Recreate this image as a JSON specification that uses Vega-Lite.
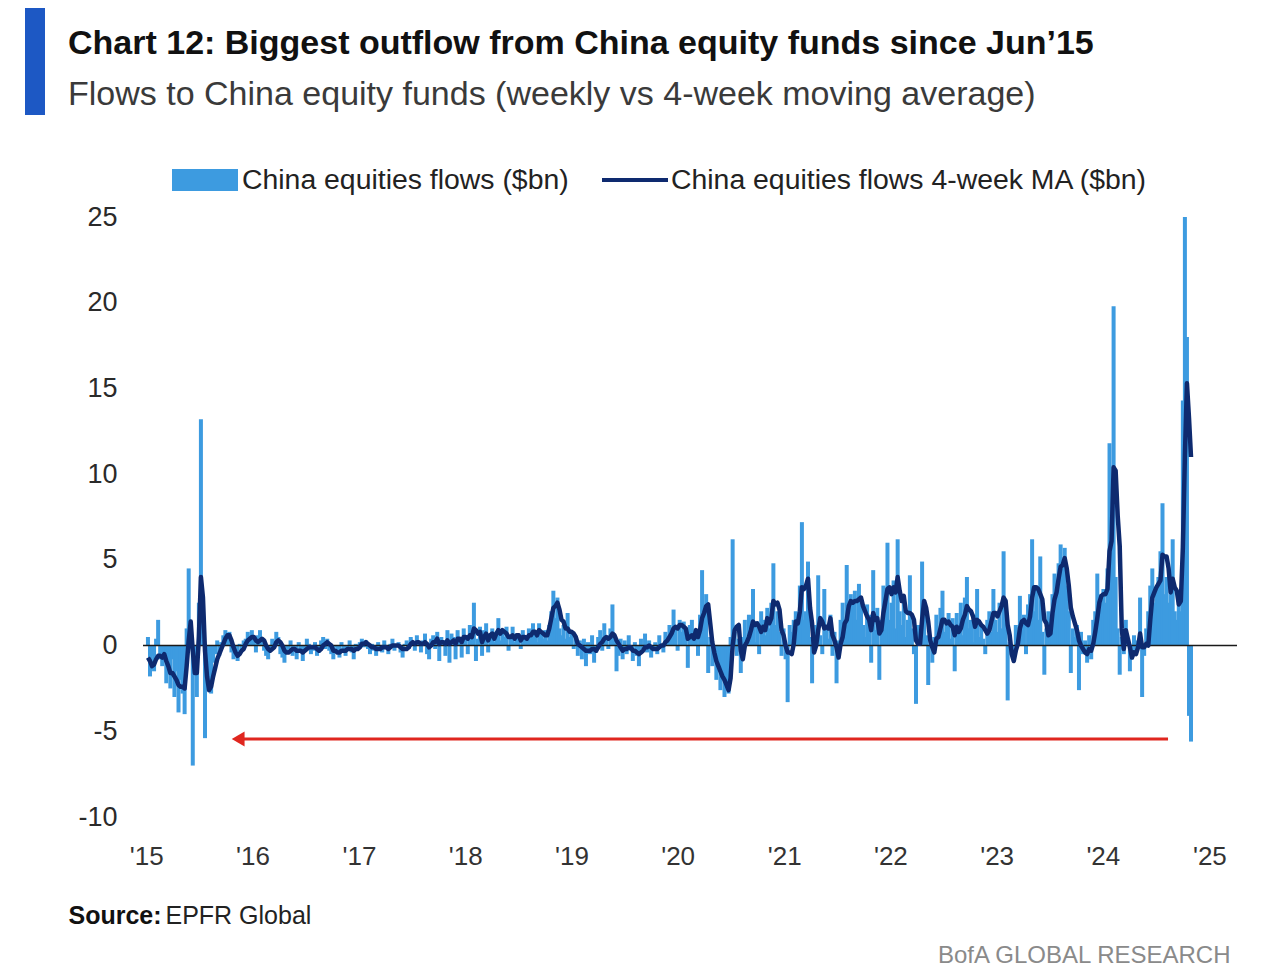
{
"$schema": "https://vega.github.io/schema/vega-lite/v6.json",
"width": 1094, "height": 600,
"autosize": {"type": "none"},
"padding": {"left": 143, "top": 217, "right": 47, "bottom": 162},
"background": "white",
"config": {"view": {"stroke": null}, "font": "Liberation Sans", "legend": {"padding": 0, "labelFont": "Liberation Sans", "labelFontSize": 28.4, "labelColor": "#222", "labelLimit": 800}},
"title": {"text": "Chart 12: Biggest outflow from China equity funds since Jun’15", "subtitle": "Flows to China equity funds (weekly vs 4-week moving average)", "anchor": "start", "frame": "group", "dx": -75, "offset": -104, "font": "Liberation Sans", "fontSize": 34, "fontWeight": "bold", "color": "#111", "subtitleFont": "Liberation Sans", "subtitleFontSize": 34, "subtitleColor": "#3a3a3a", "subtitlePadding": 17},
"data": {"format": {"parse": {"d": "date:'%Y-%j'"}}, "values": [
{"d":"2015-007","f":0.5,"m":-0.7},{"d":"2015-014","f":-1.8,"m":-0.9},{"d":"2015-021","f":-0.6,"m":-1.2},{"d":"2015-028","f":-1.5,"m":-1.1},{"d":"2015-035","f":0.4,"m":-0.8},{"d":"2015-042","f":1.5,"m":-0.6},{"d":"2015-049","f":-0.8,"m":-0.6},{"d":"2015-056","f":-1.2,"m":-0.7},{"d":"2015-063","f":-0.5,"m":-0.5},{"d":"2015-070","f":-2.2,"m":-0.9},{"d":"2015-077","f":-1.0,"m":-1.2},{"d":"2015-084","f":-2.5,"m":-1.6},{"d":"2015-091","f":-0.8,"m":-1.6},{"d":"2015-098","f":-3.0,"m":-1.8},{"d":"2015-105","f":-1.5,"m":-2.0},{"d":"2015-112","f":-3.9,"m":-2.3},{"d":"2015-119","f":-2.0,"m":-2.4},{"d":"2015-126","f":-2.8,"m":-2.4},{"d":"2015-133","f":-4.0,"m":-2.5},{"d":"2015-140","f":1.0,"m":-1.2},{"d":"2015-147","f":4.5,"m":0.3},{"d":"2015-154","f":0.5,"m":1.4},{"d":"2015-161","f":-7.0,"m":-0.3},{"d":"2015-168","f":-1.0,"m":-1.6},{"d":"2015-175","f":-3.0,"m":-1.6},{"d":"2015-182","f":2.5,"m":0.5},{"d":"2015-189","f":13.2,"m":4.0},{"d":"2015-196","f":2.0,"m":2.8},{"d":"2015-203","f":-5.4,"m":-0.3},{"d":"2015-210","f":-1.5,"m":-1.8},{"d":"2015-217","f":-2.0,"m":-2.6},{"d":"2015-224","f":-2.8,"m":-2.4},{"d":"2015-231","f":-1.0,"m":-1.8},{"d":"2015-238","f":-0.5,"m":-1.3},{"d":"2015-245","f":0.3,"m":-0.8},{"d":"2015-252","f":-0.6,"m":-0.5},{"d":"2015-259","f":0.2,"m":-0.2},{"d":"2015-266","f":0.6,"m":0.1},{"d":"2015-273","f":0.9,"m":0.4},{"d":"2015-280","f":0.5,"m":0.6},{"d":"2015-287","f":0.8,"m":0.6},{"d":"2015-294","f":-0.4,"m":0.3},{"d":"2015-301","f":-0.8,"m":-0.1},{"d":"2015-308","f":-0.5,"m":-0.4},{"d":"2015-315","f":-0.9,"m":-0.6},{"d":"2015-322","f":0.1,"m":-0.5},{"d":"2015-329","f":-0.2,"m":-0.3},{"d":"2015-336","f":0.3,"m":-0.2},{"d":"2015-343","f":0.4,"m":0.1},{"d":"2015-350","f":0.8,"m":0.3},{"d":"2015-357","f":0.2,"m":0.4},{"d":"2015-364","f":0.9,"m":0.5},
{"d":"2016-006","f":0.3,"m":0.5},{"d":"2016-013","f":-0.4,"m":0.3},{"d":"2016-020","f":0.6,"m":0.2},{"d":"2016-027","f":0.9,"m":0.3},{"d":"2016-034","f":0.2,"m":0.4},{"d":"2016-041","f":-0.3,"m":0.3},{"d":"2016-048","f":-0.6,"m":0.0},{"d":"2016-055","f":-0.8,"m":-0.2},{"d":"2016-062","f":-0.2,"m":-0.3},{"d":"2016-069","f":0.4,"m":-0.2},{"d":"2016-076","f":0.1,"m":-0.1},{"d":"2016-083","f":0.8,"m":0.2},{"d":"2016-090","f":0.5,"m":0.3},{"d":"2016-097","f":-0.5,"m":0.2},{"d":"2016-104","f":-0.7,"m":0.0},{"d":"2016-111","f":-1.0,"m":-0.3},{"d":"2016-118","f":-0.4,"m":-0.4},{"d":"2016-125","f":-0.2,"m":-0.4},{"d":"2016-132","f":0.3,"m":-0.3},{"d":"2016-139","f":-0.6,"m":-0.2},{"d":"2016-146","f":-0.3,"m":-0.2},{"d":"2016-153","f":-0.8,"m":-0.3},{"d":"2016-160","f":0.2,"m":-0.3},{"d":"2016-167","f":-0.4,"m":-0.3},{"d":"2016-174","f":-0.9,"m":-0.4},{"d":"2016-181","f":-0.2,"m":-0.3},{"d":"2016-188","f":0.4,"m":-0.2},{"d":"2016-195","f":0.1,"m":-0.1},{"d":"2016-202","f":-0.5,"m":-0.1},{"d":"2016-209","f":-0.3,"m":-0.1},{"d":"2016-216","f":0.2,"m":-0.1},{"d":"2016-223","f":-0.6,"m":-0.2},{"d":"2016-230","f":-0.4,"m":-0.3},{"d":"2016-237","f":0.3,"m":-0.2},{"d":"2016-244","f":0.5,"m":0.0},{"d":"2016-251","f":-0.2,"m":0.1},{"d":"2016-258","f":0.4,"m":0.2},{"d":"2016-265","f":-0.3,"m":0.1},{"d":"2016-272","f":-0.5,"m":0.0},{"d":"2016-279","f":-0.8,"m":-0.3},{"d":"2016-286","f":-0.1,"m":-0.3},{"d":"2016-293","f":-0.4,"m":-0.4},{"d":"2016-300","f":-0.7,"m":-0.4},{"d":"2016-307","f":0.2,"m":-0.3},{"d":"2016-314","f":-0.3,"m":-0.3},{"d":"2016-321","f":-0.6,"m":-0.3},{"d":"2016-328","f":-0.2,"m":-0.2},{"d":"2016-335","f":0.3,"m":-0.2},{"d":"2016-342","f":-0.4,"m":-0.2},{"d":"2016-349","f":-0.8,"m":-0.3},{"d":"2016-356","f":0.1,"m":-0.2},{"d":"2016-363","f":-0.2,"m":-0.2},
{"d":"2017-004","f":0.2,"m":-0.1},{"d":"2017-011","f":0.4,"m":0.1},{"d":"2017-018","f":-0.1,"m":0.1},{"d":"2017-025","f":0.3,"m":0.2},{"d":"2017-032","f":-0.2,"m":0.1},{"d":"2017-039","f":-0.5,"m":0.0},{"d":"2017-046","f":0.1,"m":-0.1},{"d":"2017-053","f":-0.3,"m":-0.1},{"d":"2017-060","f":-0.6,"m":-0.2},{"d":"2017-067","f":0.2,"m":-0.2},{"d":"2017-074","f":-0.1,"m":-0.2},{"d":"2017-081","f":-0.4,"m":-0.1},{"d":"2017-088","f":0.3,"m":-0.1},{"d":"2017-095","f":-0.2,"m":-0.1},{"d":"2017-102","f":-0.5,"m":-0.2},{"d":"2017-109","f":0.1,"m":-0.1},{"d":"2017-116","f":0.4,"m":0.0},{"d":"2017-123","f":-0.3,"m":0.0},{"d":"2017-130","f":-0.1,"m":0.0},{"d":"2017-137","f":0.2,"m":0.0},{"d":"2017-144","f":-0.4,"m":-0.1},{"d":"2017-151","f":-0.7,"m":-0.2},{"d":"2017-158","f":0.1,"m":-0.2},{"d":"2017-165","f":0.3,"m":-0.2},{"d":"2017-172","f":-0.2,"m":-0.1},{"d":"2017-179","f":0.5,"m":0.1},{"d":"2017-186","f":0.2,"m":0.2},{"d":"2017-193","f":-0.3,"m":0.1},{"d":"2017-200","f":0.6,"m":0.2},{"d":"2017-207","f":0.1,"m":0.2},{"d":"2017-214","f":-0.4,"m":0.1},{"d":"2017-221","f":0.3,"m":0.1},{"d":"2017-228","f":0.7,"m":0.2},{"d":"2017-235","f":-0.5,"m":0.1},{"d":"2017-242","f":-0.8,"m":-0.1},{"d":"2017-249","f":0.4,"m":0.0},{"d":"2017-256","f":0.6,"m":0.2},{"d":"2017-263","f":-0.2,"m":0.2},{"d":"2017-270","f":0.8,"m":0.4},{"d":"2017-277","f":-0.9,"m":0.1},{"d":"2017-284","f":0.5,"m":0.2},{"d":"2017-291","f":0.3,"m":0.2},{"d":"2017-298","f":-0.6,"m":0.1},{"d":"2017-305","f":0.9,"m":0.3},{"d":"2017-312","f":-1.0,"m":0.1},{"d":"2017-319","f":0.7,"m":0.2},{"d":"2017-326","f":0.5,"m":0.3},{"d":"2017-333","f":-0.8,"m":0.1},{"d":"2017-340","f":0.9,"m":0.4},{"d":"2017-347","f":0.2,"m":0.4},{"d":"2017-354","f":-0.7,"m":0.2},{"d":"2017-361","f":1.0,"m":0.5},
{"d":"2018-003","f":0.6,"m":0.5},{"d":"2018-010","f":-0.5,"m":0.4},{"d":"2018-017","f":1.2,"m":0.6},{"d":"2018-024","f":0.8,"m":0.5},{"d":"2018-031","f":2.5,"m":1.0},{"d":"2018-038","f":-0.9,"m":0.9},{"d":"2018-045","f":0.4,"m":0.7},{"d":"2018-052","f":1.1,"m":0.8},{"d":"2018-059","f":-0.6,"m":0.2},{"d":"2018-066","f":0.9,"m":0.5},{"d":"2018-073","f":1.3,"m":0.7},{"d":"2018-080","f":-0.4,"m":0.3},{"d":"2018-087","f":0.7,"m":0.6},{"d":"2018-094","f":1.0,"m":0.7},{"d":"2018-101","f":0.2,"m":0.4},{"d":"2018-108","f":0.8,"m":0.7},{"d":"2018-115","f":1.6,"m":0.9},{"d":"2018-122","f":0.3,"m":0.7},{"d":"2018-129","f":0.9,"m":0.9},{"d":"2018-136","f":0.5,"m":0.8},{"d":"2018-143","f":1.1,"m":0.7},{"d":"2018-150","f":-0.3,"m":0.5},{"d":"2018-157","f":0.6,"m":0.5},{"d":"2018-164","f":1.1,"m":0.6},{"d":"2018-171","f":0.2,"m":0.4},{"d":"2018-178","f":0.7,"m":0.6},{"d":"2018-185","f":0.4,"m":0.6},{"d":"2018-192","f":-0.2,"m":0.3},{"d":"2018-199","f":0.9,"m":0.5},{"d":"2018-206","f":0.6,"m":0.5},{"d":"2018-213","f":0.3,"m":0.4},{"d":"2018-220","f":1.0,"m":0.6},{"d":"2018-227","f":0.5,"m":0.6},{"d":"2018-234","f":1.3,"m":0.8},{"d":"2018-241","f":0.7,"m":0.8},{"d":"2018-248","f":0.2,"m":0.6},{"d":"2018-255","f":1.3,"m":0.9},{"d":"2018-262","f":0.8,"m":0.8},{"d":"2018-269","f":0.4,"m":0.7},{"d":"2018-276","f":0.9,"m":0.6},{"d":"2018-283","f":0.3,"m":0.6},{"d":"2018-290","f":1.2,"m":1.0},{"d":"2018-297","f":2.0,"m":1.6},{"d":"2018-304","f":3.2,"m":2.2},{"d":"2018-311","f":1.6,"m":2.3},{"d":"2018-318","f":2.8,"m":2.5},{"d":"2018-325","f":1.0,"m":2.1},{"d":"2018-332","f":0.6,"m":1.5},{"d":"2018-339","f":1.2,"m":1.4},{"d":"2018-346","f":0.4,"m":1.0},{"d":"2018-353","f":1.9,"m":1.0},{"d":"2018-360","f":0.5,"m":0.8},
{"d":"2019-002","f":0.8,"m":0.8},{"d":"2019-009","f":-0.2,"m":0.7},{"d":"2019-016","f":0.5,"m":0.5},{"d":"2019-023","f":-0.6,"m":0.1},{"d":"2019-030","f":0.3,"m":0.0},{"d":"2019-037","f":-0.8,"m":-0.1},{"d":"2019-044","f":0.4,"m":-0.2},{"d":"2019-051","f":-1.2,"m":-0.3},{"d":"2019-058","f":0.2,"m":-0.3},{"d":"2019-065","f":-0.5,"m":-0.3},{"d":"2019-072","f":0.6,"m":-0.2},{"d":"2019-079","f":-1.0,"m":-0.2},{"d":"2019-086","f":-0.4,"m":-0.3},{"d":"2019-093","f":0.5,"m":-0.1},{"d":"2019-100","f":0.9,"m":0.1},{"d":"2019-107","f":-0.3,"m":0.2},{"d":"2019-114","f":1.3,"m":0.4},{"d":"2019-121","f":0.4,"m":0.5},{"d":"2019-128","f":-0.2,"m":0.4},{"d":"2019-135","f":1.0,"m":0.5},{"d":"2019-142","f":2.4,"m":0.7},{"d":"2019-149","f":0.3,"m":0.6},{"d":"2019-156","f":-1.5,"m":0.3},{"d":"2019-163","f":-0.6,"m":0.1},{"d":"2019-170","f":0.4,"m":-0.1},{"d":"2019-177","f":-0.8,"m":-0.3},{"d":"2019-184","f":0.3,"m":-0.2},{"d":"2019-191","f":-0.5,"m":-0.2},{"d":"2019-198","f":0.6,"m":-0.1},{"d":"2019-205","f":-0.3,"m":-0.1},{"d":"2019-212","f":-0.9,"m":-0.3},{"d":"2019-219","f":0.2,"m":-0.3},{"d":"2019-226","f":-0.6,"m":-0.4},{"d":"2019-233","f":-1.2,"m":-0.5},{"d":"2019-240","f":0.4,"m":-0.4},{"d":"2019-247","f":-0.2,"m":-0.3},{"d":"2019-254","f":0.7,"m":-0.1},{"d":"2019-261","f":-0.4,"m":-0.1},{"d":"2019-268","f":0.3,"m":0.0},{"d":"2019-275","f":-0.7,"m":-0.1},{"d":"2019-282","f":-0.3,"m":-0.2},{"d":"2019-289","f":0.2,"m":-0.2},{"d":"2019-296","f":-0.5,"m":-0.2},{"d":"2019-303","f":0.6,"m":-0.1},{"d":"2019-310","f":0.1,"m":0.0},{"d":"2019-317","f":-0.4,"m":0.0},{"d":"2019-324","f":0.8,"m":0.2},{"d":"2019-331","f":0.3,"m":0.3},{"d":"2019-338","f":1.2,"m":0.5},{"d":"2019-345","f":0.5,"m":0.7},{"d":"2019-352","f":2.1,"m":1.0},{"d":"2019-359","f":1.0,"m":1.1},
{"d":"2020-001","f":-0.3,"m":1.0},{"d":"2020-008","f":1.5,"m":1.2},{"d":"2020-015","f":0.8,"m":1.2},{"d":"2020-022","f":1.4,"m":1.1},{"d":"2020-029","f":0.5,"m":1.0},{"d":"2020-036","f":-1.3,"m":0.4},{"d":"2020-043","f":1.2,"m":0.5},{"d":"2020-050","f":1.5,"m":0.6},{"d":"2020-057","f":0.3,"m":0.4},{"d":"2020-064","f":0.9,"m":0.9},{"d":"2020-071","f":-0.6,"m":0.5},{"d":"2020-078","f":1.8,"m":0.9},{"d":"2020-085","f":4.4,"m":1.6},{"d":"2020-092","f":2.0,"m":1.9},{"d":"2020-099","f":3.0,"m":2.3},{"d":"2020-106","f":-1.6,"m":2.4},{"d":"2020-113","f":0.5,"m":1.3},{"d":"2020-120","f":-1.2,"m":0.2},{"d":"2020-127","f":-0.8,"m":-0.4},{"d":"2020-134","f":-2.0,"m":-0.9},{"d":"2020-141","f":-1.0,"m":-1.2},{"d":"2020-148","f":-2.6,"m":-1.5},{"d":"2020-155","f":-1.5,"m":-1.8},{"d":"2020-162","f":-3.0,"m":-2.0},{"d":"2020-169","f":-2.2,"m":-2.3},{"d":"2020-176","f":-2.8,"m":-2.6},{"d":"2020-183","f":0.5,"m":-1.9},{"d":"2020-190","f":6.2,"m":0.0},{"d":"2020-197","f":0.8,"m":0.9},{"d":"2020-204","f":-0.6,"m":1.1},{"d":"2020-211","f":0.4,"m":1.2},{"d":"2020-218","f":-1.6,"m":-0.3},{"d":"2020-225","f":0.5,"m":-0.8},{"d":"2020-232","f":1.5,"m":0.0},{"d":"2020-239","f":0.2,"m":0.2},{"d":"2020-246","f":1.8,"m":0.5},{"d":"2020-253","f":0.5,"m":0.9},{"d":"2020-260","f":3.3,"m":1.4},{"d":"2020-267","f":0.2,"m":1.2},{"d":"2020-274","f":1.4,"m":1.3},{"d":"2020-281","f":-0.5,"m":1.1},{"d":"2020-288","f":2.0,"m":0.8},{"d":"2020-295","f":1.5,"m":1.1},{"d":"2020-302","f":0.6,"m":0.9},{"d":"2020-309","f":2.2,"m":1.6},{"d":"2020-316","f":1.0,"m":1.3},{"d":"2020-323","f":2.5,"m":1.6},{"d":"2020-330","f":4.8,"m":2.6},{"d":"2020-337","f":1.2,"m":2.4},{"d":"2020-344","f":2.0,"m":2.5},{"d":"2020-351","f":0.8,"m":2.1},{"d":"2020-358","f":-0.6,"m":0.9},{"d":"2020-365","f":1.0,"m":0.6},
{"d":"2021-006","f":-0.8,"m":0.0},{"d":"2021-013","f":-3.3,"m":-0.4},{"d":"2021-020","f":1.2,"m":-0.4},{"d":"2021-027","f":0.8,"m":-0.5},{"d":"2021-034","f":1.5,"m":0.1},{"d":"2021-041","f":2.0,"m":1.4},{"d":"2021-048","f":1.0,"m":1.3},{"d":"2021-055","f":3.5,"m":2.0},{"d":"2021-062","f":7.2,"m":3.4},{"d":"2021-069","f":1.5,"m":3.3},{"d":"2021-076","f":2.0,"m":3.5},{"d":"2021-083","f":4.9,"m":3.9},{"d":"2021-090","f":0.5,"m":2.2},{"d":"2021-097","f":-2.2,"m":1.3},{"d":"2021-104","f":0.4,"m":-0.4},{"d":"2021-111","f":1.2,"m":0.0},{"d":"2021-118","f":4.1,"m":0.9},{"d":"2021-125","f":0.6,"m":1.6},{"d":"2021-132","f":-0.5,"m":1.4},{"d":"2021-139","f":3.3,"m":1.0},{"d":"2021-146","f":1.0,"m":1.1},{"d":"2021-153","f":0.4,"m":1.0},{"d":"2021-160","f":1.8,"m":1.6},{"d":"2021-167","f":-0.6,"m":0.6},{"d":"2021-174","f":0.8,"m":0.3},{"d":"2021-181","f":-2.2,"m":-0.1},{"d":"2021-188","f":0.3,"m":-0.7},{"d":"2021-195","f":1.5,"m":0.1},{"d":"2021-202","f":2.5,"m":0.5},{"d":"2021-209","f":1.0,"m":1.3},{"d":"2021-216","f":4.7,"m":1.5},{"d":"2021-223","f":1.8,"m":2.3},{"d":"2021-230","f":3.0,"m":2.6},{"d":"2021-237","f":2.5,"m":2.5},{"d":"2021-244","f":3.2,"m":2.6},{"d":"2021-251","f":1.5,"m":2.6},{"d":"2021-258","f":3.6,"m":2.7},{"d":"2021-265","f":2.8,"m":2.8},{"d":"2021-272","f":1.2,"m":2.3},{"d":"2021-279","f":0.5,"m":2.0},{"d":"2021-286","f":2.4,"m":1.7},{"d":"2021-293","f":1.8,"m":1.5},{"d":"2021-300","f":-1.0,"m":0.9},{"d":"2021-307","f":4.4,"m":1.9},{"d":"2021-314","f":0.9,"m":1.5},{"d":"2021-321","f":2.2,"m":1.6},{"d":"2021-328","f":-2.0,"m":0.7},{"d":"2021-335","f":1.5,"m":0.9},{"d":"2021-342","f":3.5,"m":1.9},{"d":"2021-349","f":2.8,"m":2.6},{"d":"2021-356","f":6.0,"m":3.3},{"d":"2021-363","f":1.5,"m":3.4},
{"d":"2022-005","f":2.5,"m":3.0},{"d":"2022-012","f":3.8,"m":3.4},{"d":"2022-019","f":1.0,"m":3.1},{"d":"2022-026","f":6.2,"m":4.0},{"d":"2022-033","f":2.0,"m":3.2},{"d":"2022-040","f":1.2,"m":2.6},{"d":"2022-047","f":2.5,"m":2.9},{"d":"2022-054","f":0.5,"m":2.0},{"d":"2022-061","f":1.5,"m":1.9},{"d":"2022-068","f":4.1,"m":1.9},{"d":"2022-075","f":1.0,"m":1.8},{"d":"2022-082","f":-0.5,"m":1.5},{"d":"2022-089","f":-3.4,"m":0.3},{"d":"2022-096","f":1.2,"m":0.1},{"d":"2022-103","f":0.8,"m":0.1},{"d":"2022-110","f":4.9,"m":1.5},{"d":"2022-117","f":2.5,"m":2.6},{"d":"2022-124","f":0.6,"m":2.2},{"d":"2022-131","f":-2.3,"m":1.4},{"d":"2022-138","f":0.3,"m":0.3},{"d":"2022-145","f":-1.0,"m":-0.1},{"d":"2022-152","f":0.5,"m":-0.4},{"d":"2022-159","f":1.8,"m":0.4},{"d":"2022-166","f":0.6,"m":0.5},{"d":"2022-173","f":2.2,"m":1.0},{"d":"2022-180","f":3.2,"m":1.5},{"d":"2022-187","f":0.8,"m":1.5},{"d":"2022-194","f":1.5,"m":1.3},{"d":"2022-201","f":1.9,"m":1.4},{"d":"2022-208","f":0.4,"m":1.2},{"d":"2022-215","f":1.6,"m":1.1},{"d":"2022-222","f":-1.5,"m":0.6},{"d":"2022-229","f":1.9,"m":1.1},{"d":"2022-236","f":1.2,"m":0.8},{"d":"2022-243","f":2.5,"m":1.0},{"d":"2022-250","f":0.6,"m":1.5},{"d":"2022-257","f":2.8,"m":1.8},{"d":"2022-264","f":4.0,"m":2.3},{"d":"2022-271","f":1.0,"m":2.1},{"d":"2022-278","f":1.5,"m":2.0},{"d":"2022-285","f":0.2,"m":1.7},{"d":"2022-292","f":1.8,"m":1.1},{"d":"2022-299","f":3.3,"m":1.5},{"d":"2022-306","f":0.5,"m":1.4},{"d":"2022-313","f":1.2,"m":1.2},{"d":"2022-320","f":0.4,"m":1.1},{"d":"2022-327","f":-0.5,"m":0.9},{"d":"2022-334","f":1.5,"m":0.7},{"d":"2022-341","f":2.0,"m":0.9},{"d":"2022-348","f":0.8,"m":1.4},{"d":"2022-355","f":3.3,"m":1.9},{"d":"2022-362","f":1.5,"m":1.9},
{"d":"2023-004","f":0.8,"m":1.7},{"d":"2023-011","f":2.5,"m":2.0},{"d":"2023-018","f":1.0,"m":2.3},{"d":"2023-025","f":5.5,"m":2.8},{"d":"2023-032","f":1.5,"m":2.6},{"d":"2023-039","f":-3.2,"m":1.2},{"d":"2023-046","f":0.2,"m":0.6},{"d":"2023-053","f":-0.5,"m":-0.5},{"d":"2023-060","f":-0.8,"m":-0.9},{"d":"2023-067","f":1.2,"m":-0.3},{"d":"2023-074","f":0.5,"m":0.1},{"d":"2023-081","f":2.9,"m":1.0},{"d":"2023-088","f":1.0,"m":1.4},{"d":"2023-095","f":1.8,"m":1.5},{"d":"2023-102","f":-0.5,"m":1.3},{"d":"2023-109","f":2.4,"m":1.2},{"d":"2023-116","f":3.0,"m":1.7},{"d":"2023-123","f":6.2,"m":2.8},{"d":"2023-130","f":2.0,"m":3.4},{"d":"2023-137","f":3.5,"m":3.4},{"d":"2023-144","f":1.5,"m":3.3},{"d":"2023-151","f":5.2,"m":3.0},{"d":"2023-158","f":0.8,"m":2.7},{"d":"2023-165","f":-1.7,"m":1.5},{"d":"2023-172","f":1.0,"m":1.3},{"d":"2023-179","f":2.0,"m":0.6},{"d":"2023-186","f":1.5,"m":0.7},{"d":"2023-193","f":3.0,"m":1.9},{"d":"2023-200","f":4.2,"m":2.7},{"d":"2023-207","f":3.5,"m":3.1},{"d":"2023-214","f":4.8,"m":3.9},{"d":"2023-221","f":5.9,"m":4.6},{"d":"2023-228","f":4.5,"m":4.7},{"d":"2023-235","f":5.7,"m":5.1},{"d":"2023-242","f":3.5,"m":4.5},{"d":"2023-249","f":2.0,"m":3.5},{"d":"2023-256","f":-1.6,"m":2.2},{"d":"2023-263","f":1.0,"m":1.7},{"d":"2023-270","f":0.5,"m":1.3},{"d":"2023-277","f":1.2,"m":0.9},{"d":"2023-284","f":-2.6,"m":0.3},{"d":"2023-291","f":0.8,"m":0.0},{"d":"2023-298","f":-0.5,"m":-0.2},{"d":"2023-305","f":0.3,"m":-0.4},{"d":"2023-312","f":-1.0,"m":-0.5},{"d":"2023-319","f":0.6,"m":-0.2},{"d":"2023-326","f":-0.8,"m":-0.3},{"d":"2023-333","f":1.5,"m":0.1},{"d":"2023-340","f":2.0,"m":0.8},{"d":"2023-347","f":4.2,"m":1.6},{"d":"2023-354","f":2.5,"m":2.5},{"d":"2023-361","f":3.0,"m":2.9},
{"d":"2024-003","f":3.3,"m":3.0},{"d":"2024-010","f":2.5,"m":3.0},{"d":"2024-017","f":4.5,"m":3.3},{"d":"2024-024","f":11.8,"m":5.5},{"d":"2024-031","f":5.5,"m":6.1},{"d":"2024-038","f":19.8,"m":10.4},{"d":"2024-045","f":4.0,"m":10.2},{"d":"2024-052","f":1.0,"m":7.6},{"d":"2024-059","f":-1.7,"m":5.8},{"d":"2024-066","f":0.5,"m":1.0},{"d":"2024-073","f":-0.5,"m":-0.2},{"d":"2024-080","f":1.5,"m":0.9},{"d":"2024-087","f":0.2,"m":0.4},{"d":"2024-094","f":-1.5,"m":-0.1},{"d":"2024-101","f":-0.8,"m":-0.7},{"d":"2024-108","f":0.6,"m":-0.4},{"d":"2024-115","f":-0.4,"m":-0.5},{"d":"2024-122","f":0.3,"m":-0.1},{"d":"2024-129","f":2.8,"m":0.7},{"d":"2024-136","f":-3.0,"m":-0.1},{"d":"2024-143","f":-0.6,"m":-0.1},{"d":"2024-150","f":1.0,"m":0.1},{"d":"2024-157","f":2.0,"m":0.0},{"d":"2024-164","f":3.5,"m":1.5},{"d":"2024-171","f":4.5,"m":2.8},{"d":"2024-178","f":2.5,"m":3.1},{"d":"2024-185","f":3.2,"m":3.4},{"d":"2024-192","f":4.0,"m":3.6},{"d":"2024-199","f":5.5,"m":3.8},{"d":"2024-206","f":8.3,"m":5.3},{"d":"2024-213","f":3.0,"m":5.2},{"d":"2024-220","f":4.0,"m":5.2},{"d":"2024-227","f":2.5,"m":4.5},{"d":"2024-234","f":3.0,"m":3.1},{"d":"2024-241","f":6.2,"m":3.9},{"d":"2024-248","f":2.0,"m":3.4},{"d":"2024-255","f":1.5,"m":3.2},{"d":"2024-262","f":3.0,"m":2.4},{"d":"2024-269","f":2.0,"m":2.6},{"d":"2024-276","f":14.3,"m":5.7},{"d":"2024-283","f":25.0,"m":11.1},{"d":"2024-290","f":18.0,"m":15.3},{"d":"2024-297","f":-4.1,"m":13.3},{"d":"2024-304","f":-5.6,"m":11.0}
]},
"layer": [
{"layer": [
 {"mark": {"type": "bar", "size": 4},
  "encoding": {
   "x": {"field": "d", "type": "temporal", "scale": {"domain": [{"year": 2014, "month": 12, "date": 21}, {"year": 2025, "month": 4, "date": 6}], "nice": false, "padding": 0},
         "axis": {"format": "'%y", "tickCount": {"interval": "year", "step": 1}, "ticks": false, "domain": false, "grid": false, "labelFlush": false, "labelPadding": 26, "labelFont": "Liberation Sans", "labelFontSize": 26, "labelColor": "#333",
                  "title": "EPFR Global", "titleX": 22, "titleY": 98, "titleAlign": "left", "titleBaseline": "middle", "titleFont": "Liberation Sans", "titleFontSize": 25, "titleFontWeight": "normal", "titleColor": "#222"}},
   "y": {"field": "f", "type": "quantitative", "scale": {"domain": [-10, 25], "nice": false, "zero": false},
         "axis": {"values": [-10, -5, 0, 5, 10, 15, 20, 25], "labelExpr": "'' + datum.value", "ticks": false, "domain": false, "grid": false, "labelPadding": 26, "labelFont": "Liberation Sans", "labelFontSize": 27, "labelColor": "#2a2a2a",
                  "title": "Source:", "titleAngle": 0, "titleX": -75, "titleY": 698, "titleAlign": "left", "titleBaseline": "middle", "titleFont": "Liberation Sans", "titleFontSize": 25, "titleFontWeight": "bold", "titleColor": "#111"}},
   "fill": {"datum": "China equities flows ($bn)", "type": "nominal", "scale": {"range": ["#3d9be0"]},
            "legend": {"title": null, "orient": "none", "legendX": 29, "legendY": -59, "symbolType": "M-1,-0.5H2V0.5H-1Z", "symbolSize": 1936, "symbolStrokeWidth": 0, "labelOffset": 26}}
  }},
 {"data": {"values": [{}]}, "mark": {"type": "rule", "color": "#1a1a1a", "strokeWidth": 1.5}, "encoding": {"y": {"datum": 0}}},
 {"data": {"values": [{"a": "2024-225", "b": "2015-317", "v": -5.45}], "format": {"parse": {"a": "date:'%Y-%j'", "b": "date:'%Y-%j'"}}},
  "mark": {"type": "rule", "color": "#e0261f", "strokeWidth": 3},
  "encoding": {"x": {"field": "a", "type": "temporal"}, "x2": {"field": "b"}, "y": {"field": "v", "type": "quantitative"}}},
 {"data": {"values": [{"b": "2015-317", "v": -5.45}], "format": {"parse": {"b": "date:'%Y-%j'"}}},
  "mark": {"type": "point", "shape": "triangle-left", "filled": true, "size": 220, "color": "#e0261f", "opacity": 1},
  "encoding": {"x": {"field": "b", "type": "temporal"}, "y": {"field": "v", "type": "quantitative"}}},
 {"data": {"values": [{"k": 0}, {"k": 1}]},
  "mark": {"type": "point", "size": 0, "strokeWidth": 0, "opacity": 1},
  "encoding": {"color": {"field": "k", "type": "quantitative", "scale": {"domain": [0, 1], "range": ["#1d58c4", "#1d58c4"]},
     "legend": {"title": null, "orient": "none", "legendX": -118, "legendY": -209, "direction": "vertical", "gradientLength": 107, "gradientThickness": 20, "gradientStrokeWidth": 0, "gradientOpacity": 1, "labelExpr": "''", "labelOpacity": 0}}}}
]},
{"mark": {"type": "line", "strokeWidth": 4.5, "strokeJoin": "round"},
 "encoding": {
  "x": {"field": "d", "type": "temporal"},
  "y": {"field": "m", "type": "quantitative", "scale": {"domain": [-10, 25], "nice": false, "zero": false},
        "axis": {"orient": "right", "labels": false, "ticks": false, "domain": false, "grid": false,
                 "title": "BofA GLOBAL RESEARCH", "titleAngle": 0, "titleX": -7, "titleY": 738, "titleAlign": "right", "titleBaseline": "middle", "titleFont": "Liberation Sans", "titleFontSize": 24, "titleFontWeight": "normal", "titleColor": "#8a8a8a"}},
  "stroke": {"datum": "China equities flows 4-week MA ($bn)", "type": "nominal", "scale": {"range": ["#0e2a6f"]},
             "legend": {"title": null, "orient": "none", "legendX": 457, "legendY": -72, "symbolType": "stroke", "symbolSize": 4356, "symbolStrokeWidth": 4, "labelOffset": 1}}
 }}
],
"resolve": {"scale": {"y": "independent"}}
}
